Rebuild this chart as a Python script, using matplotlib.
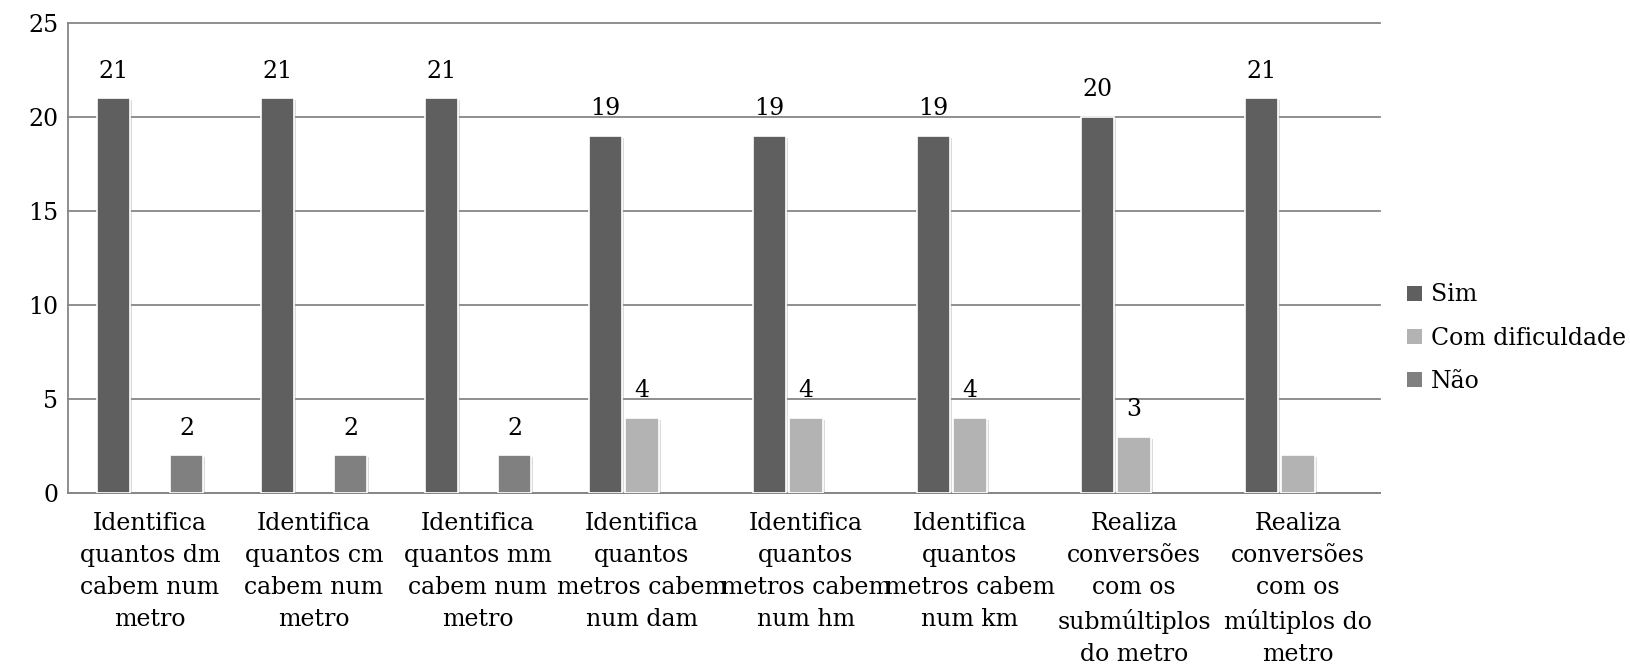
import numpy as np
import matplotlib
matplotlib.use("Agg")
import matplotlib.pyplot as plt
import matplotlib.patheffects as pe

categories = [
    "Identifica\nquantos dm\ncabem num\nmetro",
    "Identifica\nquantos cm\ncabem num\nmetro",
    "Identifica\nquantos mm\ncabem num\nmetro",
    "Identifica\nquantos\nmetros cabem\nnum dam",
    "Identifica\nquantos\nmetros cabem\nnum hm",
    "Identifica\nquantos\nmetros cabem\nnum km",
    "Realiza\nconversões\ncom os\nsubmúltiplos\ndo metro",
    "Realiza\nconversões\ncom os\nmúltiplos do\nmetro",
]
series_names = ["Sim", "Com dificuldade", "Não"]
sim = [21, 21, 21, 19, 19, 19, 20, 21]
com_dificuldade = [np.nan, np.nan, np.nan, 4, 4, 4, 3, 2]
nao = [2, 2, 2, np.nan, np.nan, np.nan, np.nan, np.nan]
unlabeled_points = {(1, 7)}  # (series index, category index) without data label
colors = ["#5f5f5f", "#b3b3b3", "#808080"]
yticks = [0, 5, 10, 15, 20, 25]

FS = 17
plt.rcParams["font.family"] = ["DejaVu Serif"]
fig = plt.figure(figsize=(16.31, 6.65), dpi=100)
ax = fig.add_axes([68 / 1631, 1 - 493 / 665, (1380 - 68) / 1631, (493 - 23) / 665])

x = np.arange(len(categories))
offset = 0.2226
width = 0.205
shadow = [pe.SimplePatchShadow(offset=(1.5, -1.5), shadow_rgbFace="#999999", alpha=0.35), pe.Normal()]
for si, (vals, col) in enumerate(zip([sim, com_dificuldade, nao], colors)):
    pos = x + (si - 1) * offset
    bars = ax.bar(pos, vals, width=width, color=col, edgecolor="white", linewidth=1.2,
                  label=series_names[si], zorder=3)
    for b in bars:
        b.set_path_effects(shadow)
    for ci, v in enumerate(vals):
        if np.isnan(v) or (si, ci) in unlabeled_points:
            continue
        ax.annotate(f"{int(v)}", (pos[ci], v), xytext=(0, 27), textcoords="offset pixels",
                    ha="center", va="center", fontsize=FS, color="black", zorder=4)

ax.set_xlim(-0.5, len(categories) - 0.5)
ax.set_ylim(0, 25)
ax.set_yticks(yticks)
ax.set_xticks(x)
ax.set_xticklabels(categories, fontsize=FS, linespacing=1.5, va="top")
ax.tick_params(axis="both", length=0, labelsize=FS)
ax.tick_params(axis="y", pad=7)
ax.tick_params(axis="x", pad=14)
ax.grid(axis="y", color="#868686", linewidth=1.3, zorder=0)
for gl in ax.get_ygridlines():
    gl.set_clip_on(False)
ax.set_axisbelow(True)
for s in ["top", "right"]:
    ax.spines[s].set_visible(False)
for s in ["left", "bottom"]:
    ax.spines[s].set_color("#868686")
    ax.spines[s].set_linewidth(1.3)

leg = ax.legend(loc="center left", bbox_to_anchor=(1398 / 1631, 1 - 338 / 665), bbox_transform=fig.transFigure,
                frameon=False, fontsize=FS, handlelength=0.6, handleheight=0.6, handletextpad=0.4,
                labelspacing=0.85, borderaxespad=0)
for h in leg.legend_handles:
    h.set_path_effects([])
    h.set_edgecolor("none")

fig.savefig("out.png", dpi=100)
